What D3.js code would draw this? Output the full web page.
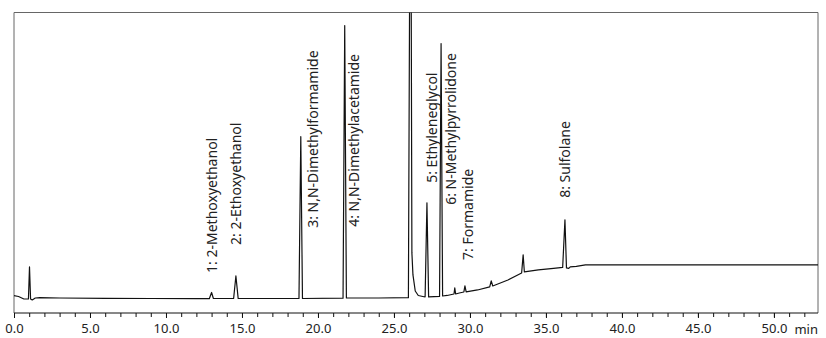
<!DOCTYPE html>
<html>
<head>
<meta charset="utf-8">
<script src="https://cdn.jsdelivr.net/npm/d3@7"></script>
<style>
  body { margin: 0; background: #fff; }
  svg { display: block; font-family: 'Noto Sans', sans-serif; }
</style>
</head>
<body>
<svg id="chart"></svg>
<script>
// retention time (min) and detector signal
const traceTime = [
  0, 0.3, 0.65, 0.95, 1.02, 1.09, 1.2, 1.4, 1.7, 3.0, 6.0, 9.0, 12.0,
  12.85, 13.0, 13.12, 14.45, 14.6, 14.75, 16.0, 18.75, 18.87, 18.98,
  21.65, 21.76, 21.87, 24.0, 25.95, 26.05, 26.12, 26.18, 26.25, 26.4, 26.6,
  27.05, 27.17, 27.28, 28.0, 28.1, 28.2, 28.5, 28.95, 29.0, 29.06, 29.3,
  29.6, 29.67, 29.75, 30.5, 31.3, 31.4, 31.5, 32.5, 33.4, 33.5, 33.58,
  34.5, 35.5, 36.1, 36.25, 36.35, 36.5, 36.6, 37.0, 37.6, 40.0, 45.0, 50.0, 52.9
];
const traceSignal = [
  17.3, 16.5, 14, 14, 46, 14, 13, 15, 15.3, 15, 14.7, 14.5, 14.3,
  14.3, 20.5, 14.5, 14.5, 37, 14.5, 14.5, 14.5, 176, 14.5,
  14.8, 287, 15, 15, 15.3, 400, 400, 60, 38, 22, 17.5,
  16, 110, 16, 16.5, 269, 17, 17.5, 19, 25, 19, 20,
  21, 27, 21, 23, 26, 32, 27, 33, 40, 58, 41,
  43, 44.5, 45.5, 93, 45, 44.5, 46, 46.5, 48, 48, 48, 48, 48
];

// peak annotations: text, time and signal level where each text starts
const peakNames = [
  '1: 2-Methoxyethanol',
  '2: 2-Ethoxyethanol',
  '3: N,N-Dimethylformamide',
  '4: N,N-Dimethylacetamide',
  '5: Ethyleneglycol',
  '6: N-Methylpyrrolidone',
  '7: Formamide',
  '8: Sulfolane'
];
const labelTimes = [13.36, 14.93, 20.0, 22.7, 27.8, 29.05, 30.2, 36.58];
const labelLevels = [40, 68, 85, 86, 130, 108, 53, 115];

const xTicks = [0, 5, 10, 15, 20, 25, 30, 35, 40, 45, 50];

const width = 826;
const height = 338;
const margin = { top: 12.5, right: 8, bottom: 25, left: 14 };

const svg = d3.select('#chart')
  .attr('width', width)
  .attr('height', height);

const x = d3.scaleLinear()
  .domain([0, 52.9])
  .range([margin.left, width - margin.right]);

const y = d3.scaleLinear()
  .domain([0, 300])
  .range([height - margin.bottom, margin.top]);

// frame
svg.append('path')
  .attr('d', `M${x(0)},${y(0)}V${y(300)}H${x(52.9)}V${y(0)}`)
  .attr('fill', 'none')
  .attr('stroke', '#666')
  .attr('stroke-width', 1);

svg.append('clipPath')
  .attr('id', 'plot')
  .append('rect')
  .attr('x', x(0))
  .attr('y', y(300))
  .attr('width', x(52.9) - x(0))
  .attr('height', y(0) - y(300));

const line = d3.line()
  .x((d, i) => x(traceTime[i]))
  .y(d => y(d));

svg.append('path')
  .datum(traceSignal)
  .attr('clip-path', 'url(#plot)')
  .attr('fill', 'none')
  .attr('stroke', '#111')
  .attr('stroke-width', 1.2)
  .attr('stroke-linejoin', 'round')
  .attr('d', line);

// minor ticks every minute
svg.append('g')
  .attr('transform', `translate(0,${y(0)})`)
  .call(d3.axisBottom(x).tickValues(d3.range(0, 53, 1)).tickSize(4).tickFormat(''))
  .call(g => g.select('.domain').remove())
  .selectAll('line').attr('stroke', '#111');

// major ticks
svg.append('g')
  .attr('transform', `translate(0,${y(0)})`)
  .call(d3.axisBottom(x).tickValues(xTicks).tickSize(5).tickSizeOuter(0).tickPadding(6).tickFormat(d3.format('.1f')))
  .call(g => g.select('.domain').attr('stroke', '#111').attr('d', `M${x(0)},0H${x(52.9)}`))
  .call(g => g.selectAll('line').attr('stroke', '#111'))
  .call(g => g.selectAll('text')
    .attr('font-size', 13)
    .attr('font-family', "'Noto Sans', sans-serif")
    .attr('fill', '#222'));

svg.append('text')
  .attr('x', x(52.9))
  .attr('y', y(0) + 20.5)
  .attr('text-anchor', 'end')
  .attr('font-size', 13)
  .attr('fill', '#222')
  .text('min');

// peak labels, rotated, reading bottom to top
svg.append('g')
  .selectAll('text')
  .data(peakNames)
  .join('text')
  .attr('transform', (d, i) => `translate(${x(labelTimes[i])},${y(labelLevels[i])}) rotate(-90)`)
  .attr('font-size', 14)
  .attr('fill', '#222')
  .text(d => d);
</script>
</body>
</html>
